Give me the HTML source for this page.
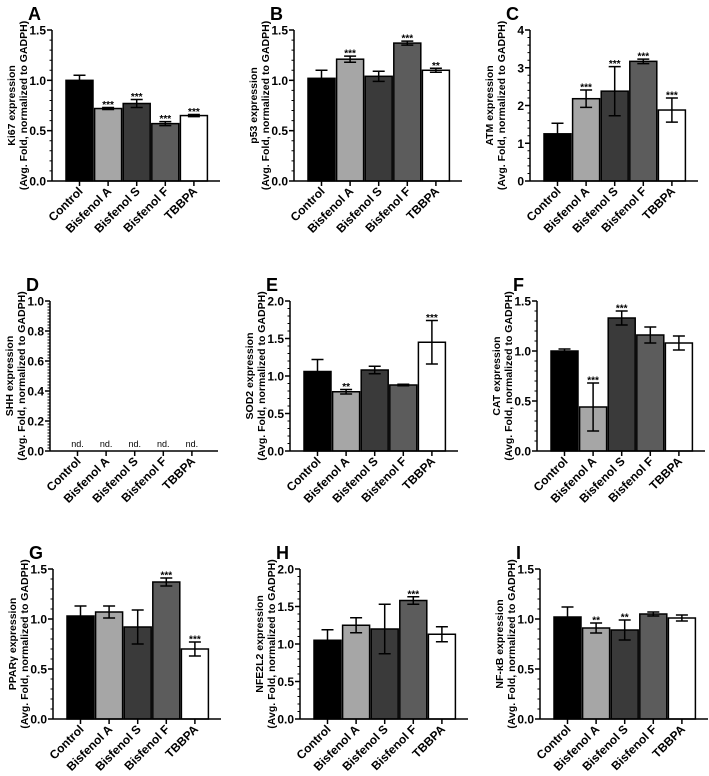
<!DOCTYPE html>
<html><head><meta charset="utf-8">
<style>
html,body{margin:0;padding:0;background:#fff;}
svg{display:block;font-family:"Liberation Sans",Arial,sans-serif;}
</style></head>
<body>
<svg id="fig" width="709" height="776" viewBox="0 0 709 776" xmlns="http://www.w3.org/2000/svg"></svg>
<script>
const categories = ["Control","Bisfenol A","Bisfenol S","Bisfenol F","TBBPA"];
const barColors = ["#000000","#a6a6a6","#3a3a3a","#5c5c5c","#ffffff"];

const kiValues = [1.00,0.72,0.77,0.57,0.65];
const kiErrors = [0.05,0.01,0.04,0.02,0.01];
const kiStars = ["","***","***","***","***"];

const p53Values = [1.02,1.21,1.04,1.37,1.10];
const p53Errors = [0.08,0.03,0.05,0.02,0.02];
const p53Stars = ["","***","","***","**"];

const atmValues = [1.25,2.18,2.38,3.17,1.88];
const atmErrors = [0.28,0.23,0.65,0.06,0.32];
const atmStars = ["","***","***","***","***"];

const shhValues = [null,null,null,null,null];

const sodValues = [1.06,0.79,1.08,0.88,1.45];
const sodErrors = [0.16,0.03,0.05,0.01,0.29];
const sodStars = ["","**","","","***"];

const catValues = [1.00,0.44,1.33,1.16,1.08];
const catErrors = [0.02,0.24,0.07,0.08,0.07];
const catStars = ["","***","***","",""];

const pparValues = [1.03,1.07,0.92,1.37,0.70];
const pparErrors = [0.10,0.06,0.17,0.04,0.07];
const pparStars = ["","","","***","***"];

const nfeValues = [1.05,1.25,1.20,1.58,1.13];
const nfeErrors = [0.14,0.10,0.33,0.05,0.10];
const nfeStars = ["","","","***",""];

const nfkbValues = [1.02,0.91,0.89,1.05,1.01];
const nfkbErrors = [0.10,0.05,0.10,0.02,0.03];
const nfkbStars = ["","**","**","",""];

const panels = [
 {letter:"A",gene:"Ki67",ax:52,top:30,bot:181,max:1.5,major:0.5,minor:0.1,dec:1,v:kiValues,e:kiErrors,s:kiStars},
 {letter:"B",gene:"p53",ax:294,top:30,bot:181,max:1.5,major:0.5,minor:0.1,dec:1,v:p53Values,e:p53Errors,s:p53Stars},
 {letter:"C",gene:"ATM",ax:530,top:30,bot:181,max:4,major:1,minor:0.2,dec:0,v:atmValues,e:atmErrors,s:atmStars},
 {letter:"D",gene:"SHH",ax:50,top:301,bot:451,max:1.0,major:0.2,minor:0.02,dec:1,v:shhValues,e:null,s:null},
 {letter:"E",gene:"SOD2",ax:290,top:301,bot:451,max:2.0,major:0.5,minor:0.1,dec:1,v:sodValues,e:sodErrors,s:sodStars},
 {letter:"F",gene:"CAT",ax:537,top:301,bot:451,max:1.5,major:0.5,minor:0.1,dec:1,v:catValues,e:catErrors,s:catStars},
 {letter:"G",gene:"PPARγ",ax:53,top:569,bot:719,max:1.5,major:0.5,minor:0.1,dec:1,v:pparValues,e:pparErrors,s:pparStars},
 {letter:"H",gene:"NFE2L2",ax:300,top:569,bot:719,max:2.0,major:0.5,minor:0.1,dec:1,v:nfeValues,e:nfeErrors,s:nfeStars},
 {letter:"I",gene:"NF-κB",ax:540,top:569,bot:719,max:1.5,major:0.5,minor:0.1,dec:1,v:nfkbValues,e:nfkbErrors,s:nfkbStars}
];

const NS="http://www.w3.org/2000/svg";
const svg=document.getElementById('fig');
function mk(tag,attrs,parent){const el=document.createElementNS(NS,tag);for(const k in attrs)el.setAttribute(k,attrs[k]);(parent||svg).appendChild(el);return el;}

panels.forEach(p=>{
  const g=mk('g',{});
  
  
  const y=v=>p.bot-(v/p.max)*(p.bot-p.top);
  const bx=i=>p.ax+14+i*28.6;
  const bw=27;
  const axEnd=p.ax+168;
  const L=mk('text',{x:p.ax-24,y:p.top-10,'font-size':18,'font-weight':'bold'},g);
  L.textContent=p.letter;
  
  
  const cy=(p.top+p.bot)/2;
  const t1=mk('text',{x:0,y:0,'font-size':10.5,'font-weight':'bold','text-anchor':'middle',transform:`translate(${p.ax-37},${cy}) rotate(-90)`},g);
  t1.textContent=p.gene+" expression";
  
  
  const t2=mk('text',{x:0,y:0,'font-size':10.5,'font-weight':'bold','text-anchor':'middle',transform:`translate(${p.ax-25},${cy}) rotate(-90)`},g);
  t2.textContent="(Avg. Fold, normalized to GADPH)";
  
  
  p.v.forEach((v,i)=>{
    if(v===null){
      const nd=mk('text',{x:bx(i)+bw/2,y:p.bot-4,'font-size':9,'text-anchor':'middle'},g);
      nd.textContent="nd.";
      
      
      return;
    }
    const r=mk('rect',{x:bx(i),y:y(v),width:bw,height:p.bot-y(v),fill:barColors[i],stroke:'#000','stroke-width':1.5},g);
    
    
    const cx=bx(i)+bw/2, e=p.e[i];
    const eb=mk('path',{d:`M${cx},${y(v-e)}V${y(v+e)}M${cx-6},${y(v+e)}H${cx+6}M${cx-6},${y(v-e)}H${cx+6}`,stroke:'#000','stroke-width':1.5,fill:'none'},g);
    
    
    if(p.s[i]){
      const st=mk('text',{x:cx,y:y(v+e)+0.5,'font-size':10,'font-weight':'bold','text-anchor':'middle'},g);
      st.textContent=p.s[i];
      
      
    }
  });
  const yax=mk('path',{d:`M${p.ax},${p.top}V${p.bot}`,stroke:'#000','stroke-width':1.5},g);
  
  
  const xax=mk('path',{d:`M${p.ax},${p.bot}H${axEnd}`,stroke:'#000','stroke-width':1.5},g);
  
  
  const nMin=Math.round(p.max/p.minor);
  let d='';
  for(let k=0;k<=nMin;k++){const yy=y(k*p.minor);d+=`M${p.ax-2.5},${yy}H${p.ax}`;}
  mk('path',{d:d,stroke:'#000','stroke-width':1},g);
  const nMaj=Math.round(p.max/p.major);
  for(let k=0;k<=nMaj;k++){
    const val=k*p.major, yy=y(val);
    mk('path',{d:`M${p.ax-5},${yy}H${p.ax}`,stroke:'#000','stroke-width':1.5},g);
    const tl=mk('text',{x:p.ax-6,y:yy+4.5,'font-size':12,'font-weight':'bold','text-anchor':'end'},g);
    tl.textContent=val.toFixed(p.dec);
    
    
  }
  categories.forEach((c,i)=>{
    const cx=bx(i)+bw/2;
    mk('path',{d:`M${cx},${p.bot}V${p.bot+5}`,stroke:'#000','stroke-width':1.5},g);
    const xl=mk('text',{x:0,y:0,'font-size':12,'font-weight':'bold','text-anchor':'end',transform:`translate(${cx+4},${p.bot+11}) rotate(-45)`},g);
    xl.textContent=c;
    
    
  });
});
</script>
</body></html>
